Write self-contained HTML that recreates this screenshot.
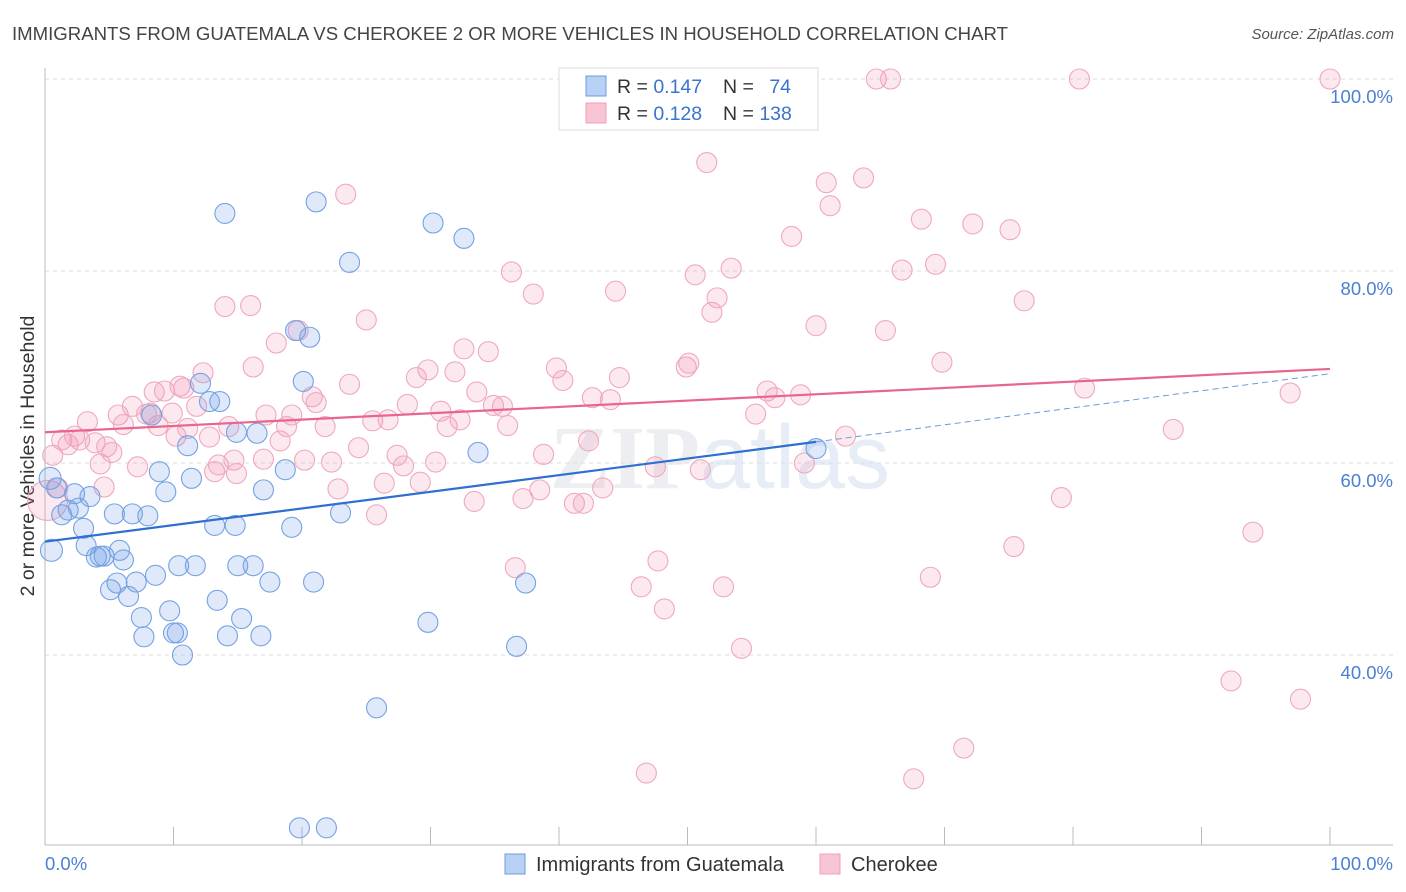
<!DOCTYPE html>
<html><head><meta charset="utf-8"><style>
body{margin:0;background:#fff;font-family:"Liberation Sans",sans-serif;}
svg{display:block}
</style></head><body>
<svg id="chart" width="1406" height="892">
<text x="12" y="40" font-size="18.6" fill="#444">IMMIGRANTS FROM GUATEMALA VS CHEROKEE 2 OR MORE VEHICLES IN HOUSEHOLD CORRELATION CHART</text>
<text x="1394" y="39" font-size="15" fill="#555" font-style="italic" text-anchor="end">Source: ZipAtlas.com</text>
<text x="720" y="488" font-size="90" fill="#eceef1" text-anchor="middle" font-family="Liberation Serif" font-weight="bold">ZIP<tspan fill="#e6edf7" font-family="Liberation Sans" font-weight="normal">atlas</tspan></text>
<text transform="translate(34,456) rotate(-90)" font-size="19.5" fill="#333" text-anchor="middle">2 or more Vehicles in Household</text>
<g id="grid"></g><g id="pts"></g><g id="lines"></g>
<g>
<rect x="559" y="68" width="259" height="62" fill="#fff" stroke="#ddd"/>
<rect x="586" y="76" width="20" height="20" fill="#b7d0f3" stroke="#6a9be0"/>
<rect x="586" y="103" width="20" height="20" fill="#f8c5d4" stroke="#eea0b8"/>
<text x="617" y="93" font-size="19.5" fill="#333">R = <tspan fill="#3a73d0">0.147</tspan></text>
<text x="723" y="93" font-size="19.5" fill="#333">N = <tspan fill="#3a73d0" dx="10">74</tspan></text>
<text x="617" y="120" font-size="19.5" fill="#333">R = <tspan fill="#3a73d0">0.128</tspan></text>
<text x="723" y="120" font-size="19.5" fill="#333">N = <tspan fill="#3a73d0">138</tspan></text>
</g>
<g>
<rect x="505" y="854" width="20" height="20" fill="#b7d0f3" stroke="#6a9be0"/>
<text x="536" y="871" font-size="20" fill="#333">Immigrants from Guatemala</text>
<rect x="820" y="854" width="20" height="20" fill="#f8c5d4" stroke="#eea0b8"/>
<text x="851" y="871" font-size="20" fill="#333">Cherokee</text>
</g>
</svg>
<script>
const blueX=[0.4,0.5,0.9,1.3,1.8,2.3,2.6,3.0,3.2,3.5,4.0,4.3,4.6,5.1,5.4,5.6,5.8,6.1,6.5,6.8,7.1,7.5,7.7,8.0,8.3,8.6,8.9,9.4,9.7,10.0,10.3,10.4,10.7,11.1,11.4,11.7,12.1,12.8,13.2,13.4,13.6,14.0,14.2,14.8,14.9,15.0,15.3,16.2,16.5,16.8,17.0,17.5,18.7,19.2,19.5,19.8,20.1,20.6,20.9,21.1,21.9,23.0,23.7,25.8,29.8,30.2,32.6,33.7,36.7,37.4,60.0];
const blueY=[58.4,50.9,57.4,54.6,55.1,56.8,55.3,53.2,51.4,56.5,50.2,50.3,50.3,46.8,54.7,47.5,50.9,49.9,46.1,54.7,47.6,43.9,41.9,54.5,65.0,48.3,59.1,57.0,44.6,42.3,42.3,49.3,40.0,61.8,58.4,49.3,68.3,66.4,53.5,45.7,66.4,86.0,42.0,53.5,63.2,49.3,43.8,49.3,63.1,42.0,57.2,47.6,59.3,53.3,73.8,22.0,68.5,73.1,47.6,87.2,22.0,54.8,80.9,34.5,43.4,85.0,83.4,61.1,40.9,47.5,61.5];
const pinkX=[0.2,0.6,1.0,1.3,1.8,2.3,2.7,3.3,3.9,4.3,4.6,4.8,5.2,5.7,6.1,6.8,7.2,7.9,8.2,8.5,8.8,9.3,9.9,10.2,10.5,10.8,11.1,11.8,12.3,12.8,14.3,13.2,13.5,14.0,14.7,14.9,16.0,16.2,17.0,17.2,18.0,18.3,18.8,19.2,19.7,20.2,20.8,21.1,21.8,22.3,22.8,23.4,23.7,24.4,25.0,25.5,25.8,26.4,26.7,27.4,27.9,28.2,28.9,29.2,29.8,30.4,30.8,31.3,31.9,32.3,32.6,33.4,33.6,34.5,34.9,35.6,36.0,36.3,36.6,37.2,38.0,38.5,38.8,39.8,40.3,41.2,41.9,42.3,42.6,43.4,44.0,44.4,44.7,46.4,46.8,47.5,47.7,48.2,49.9,50.1,50.6,51.0,51.5,51.9,52.3,52.8,53.4,54.2,55.3,56.2,56.8,58.1,58.8,59.1,60.0,60.8,61.1,62.3,63.7,64.7,65.4,65.8,66.7,68.2,68.9,69.3,69.8,71.5,67.6,72.2,75.1,75.4,76.2,79.1,80.5,80.9,87.8,92.3,94.0,96.9,97.7,100,53.7];
const pinkY=[56.1,60.8,57.4,62.4,61.9,62.8,62.4,64.3,62.1,59.9,57.5,61.7,61.1,65.0,64.0,65.9,59.6,65.1,65.2,67.4,63.9,67.5,65.2,62.8,68.0,67.8,63.6,65.9,69.4,62.7,63.8,59.1,59.8,76.3,60.3,58.9,76.4,70.0,60.4,65.0,72.5,62.3,63.8,65.0,73.8,60.3,66.9,66.3,63.8,60.1,57.3,88.0,68.2,61.6,74.9,64.4,54.6,57.9,64.5,60.8,59.7,66.1,68.9,58.0,69.7,60.1,65.4,63.8,69.5,64.5,71.9,56.0,67.4,71.6,66.0,65.9,63.9,79.9,49.1,56.3,77.6,57.2,60.9,69.9,68.6,55.8,55.8,62.3,66.8,57.4,66.6,77.9,68.9,47.1,27.7,59.6,49.8,44.8,70.0,70.4,79.6,59.3,91.3,75.7,77.2,47.1,80.3,40.7,65.1,67.5,66.8,83.6,67.1,60.0,74.3,89.2,86.8,62.8,89.7,100,73.8,100,80.1,85.4,48.1,80.7,70.5,30.3,27.1,84.9,84.3,51.3,76.9,56.4,100,67.8,63.5,37.3,52.8,67.3,35.4,100,99.7];
const yTicks=[100,80,60,40];
const yTickLabels=["100.0%","80.0%","60.0%","40.0%"];
const xTicks=[0,10,20,30,40,50,60,70,80,90,100];
const blueTrend=[[0,51.8],[60,62.2]];
const blueDash=[[60,62.2],[100,69.3]];
const pinkTrend=[[0,63.2],[100,69.8]];

const NS="http://www.w3.org/2000/svg";
const X=v=>45+v*12.85, Y=v=>1039-v*9.6;
function mk(tag,at,parent){const e=document.createElementNS(NS,tag);for(const k in at)e.setAttribute(k,at[k]);parent.appendChild(e);return e;}
const svg=document.getElementById('chart'),grid=document.getElementById('grid'),pts=document.getElementById('pts'),lines=document.getElementById('lines');
yTicks.forEach((t,i)=>{
 const g=mk('line',{x1:45,x2:1393,y1:Y(t),y2:Y(t),stroke:'#ddd','stroke-dasharray':'4,4'},grid);
 
 
 const l=mk('text',{x:1393,y:Y(t)+24,'font-size':18.5,fill:'#4a7fd4','text-anchor':'end'},grid);
 l.textContent=yTickLabels[i];
 
 
});
const ax=mk('line',{x1:45,x2:45,y1:68,y2:845,stroke:'#bbb'},grid);


const bx=mk('line',{x1:45,x2:1393,y1:845,y2:845,stroke:'#bbb'},grid);


xTicks.forEach(t=>{
 const k=mk('line',{x1:X(t),x2:X(t),y1:827,y2:845,stroke:'#bbb'},grid);
 
 
});
const xl0=mk('text',{x:45,y:870,'font-size':18.5,fill:'#4a7fd4'},grid);xl0.textContent="0.0%";


const xl1=mk('text',{x:1393,y:870,'font-size':18.5,fill:'#4a7fd4','text-anchor':'end'},grid);xl1.textContent="100.0%";



pinkX.forEach((v,i)=>{
 const c=mk('circle',{cx:X(v),cy:Y(pinkY[i]),r:i==0?20:10,fill:'rgba(242,150,180,0.22)',stroke:'#f0a8be','stroke-width':1.1},pts);
 
 
});
blueX.forEach((v,i)=>{
 const c=mk('circle',{cx:X(v),cy:Y(blueY[i]),r:i<2?11:10,fill:'rgba(110,155,230,0.22)',stroke:'#74a2e2','stroke-width':1.1},pts);
 
 
});
function ln(p,col,dash,name){
 const e=mk('line',{x1:X(p[0][0]),y1:Y(p[0][1]),x2:X(p[1][0]),y2:Y(p[1][1]),stroke:col,'stroke-width':dash?1:2.2},lines);
 if(dash)e.setAttribute('stroke-dasharray','6,4');
 
 
}
ln(pinkTrend,'#e8668e',false,'cherokee-trend-line');
ln(blueTrend,'#2f6fd0',false,'guatemala-trend-line');
ln(blueDash,'#6a9be0',true,'guatemala-trend-extension');
</script>
</body></html>
